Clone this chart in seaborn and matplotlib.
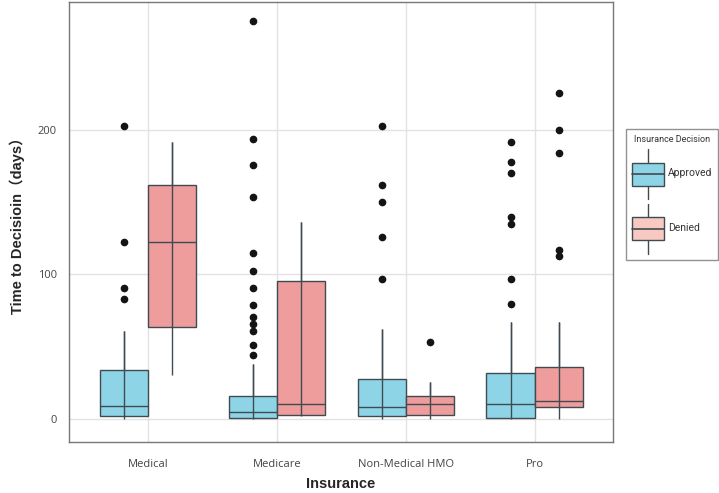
import pandas as pd
import matplotlib
matplotlib.use('Agg')
import matplotlib.pyplot as plt
import seaborn as sns
from matplotlib.patches import Patch, Rectangle
from matplotlib.lines import Line2D
from matplotlib.legend_handler import HandlerBase

# === Data (days to decision) ===
insurance = ['Medical', 'Medicare', 'Non-Medical HMO', 'Pro']
decisions = ['Approved', 'Denied']

medical_approved = [0, 0.5, 1, 1.2, 1.5, 1.8, 2.5, 3.5, 5, 7, 8.5, 11, 15, 20, 27, 33.5,
                    60.6, 82.8, 90.6, 122.5, 203.3]
medical_denied = [30, 50, 63.6, 100, 122.5, 140, 161.8, 180, 191.7]

medicare_approved = [0, 0, 0, 0, 0, 0, 0, 0, 0, 0, 0.3, 0.4, 0.5, 0.6, 0.7,
                     1, 1, 1, 1.5, 2, 2, 2.5, 3, 3, 3.5, 4, 4, 4.3, 4.6,
                     5, 5.5, 6, 7, 7.5, 8, 9, 10, 11, 12, 13, 14, 15, 16,
                     38.1, 43.9, 50.9, 60.6, 65.4, 70.5, 78.6, 90.4, 102.7, 115.2,
                     153.7, 175.7, 193.8, 275.6]
medicare_denied = [2, 2.2, 2.3, 5, 10.1, 50, 95.7, 120, 136.7]

hmo_approved = [0, 0, 0.5, 1, 1.2, 1.5, 1.8, 2.5, 3, 4, 5, 6.5, 7.8, 9, 11, 14, 18, 22, 27.3,
                62.4, 97.1, 126.3, 150, 161.8, 203.3]
hmo_denied = [0, 1, 2.3, 6, 10.4, 13, 16, 25.7, 53.2]

pro_approved = [0, 0, 0, 0, 0.2, 0.3, 0.5, 0.6, 0.7, 1, 2, 3, 4, 6, 7.5, 9, 10.4,
                12, 14, 17, 20, 23, 26, 29, 31.9,
                66.8, 79.5, 97.1, 134.8, 139.6, 170.2, 177.8, 191.9]
pro_denied = [0, 1, 2, 4, 6, 7, 8.3, 9, 10, 11, 11.5, 12, 12.5, 14, 17, 21, 26, 31, 36.1,
              66.8, 112.6, 117.2, 184.5, 200, 225.7]

groups = {
    ('Medical', 'Approved'): medical_approved,
    ('Medical', 'Denied'): medical_denied,
    ('Medicare', 'Approved'): medicare_approved,
    ('Medicare', 'Denied'): medicare_denied,
    ('Non-Medical HMO', 'Approved'): hmo_approved,
    ('Non-Medical HMO', 'Denied'): hmo_denied,
    ('Pro', 'Approved'): pro_approved,
    ('Pro', 'Denied'): pro_denied,
}

rows = []
for (ins, dec), vals in groups.items():
    for v in vals:
        rows.append({'Insurance': ins, 'Decision': dec, 'Days': v})
df = pd.DataFrame(rows)

colors = {'Approved': '#8dd4e6', 'Denied': '#ee9c9c'}
legend_colors = {'Approved': '#8dd4e6', 'Denied': '#f8c8c3'}
edge = '#3f4b50'

# === Plot ===
sns.set_style('white')
plt.rcParams['font.family'] = ['Open Sans', 'DejaVu Sans']

fig = plt.figure(figsize=(7.19, 4.93), dpi=100)
ax = fig.add_axes([0.0964, 0.104, 0.756, 0.892])

sns.boxplot(data=df, x='Insurance', y='Days', hue='Decision',
            order=insurance, hue_order=decisions, palette=colors,
            width=0.75, gap=0, saturation=1, linewidth=1, linecolor=edge,
            showcaps=False, whis=1.5, fliersize=4.5,
            flierprops=dict(marker='o', markerfacecolor='#141414', markeredgecolor='#141414'),
            legend=False, ax=ax)

# ggplot-like whisker running through the box
for cont in ax.containers:
    wh = getattr(cont, 'whiskers', None)
    if not wh:
        continue
    for i in range(0, len(wh), 2):
        lo, hi = wh[i], wh[i + 1]
        lo.set_ydata([lo.get_ydata()[1], hi.get_ydata()[1]])
        lo.set_zorder(3)
        hi.set_zorder(3)

ax.set_ylim(-16, 289)
ax.set_xlim(-0.61, 3.605)
ax.set_yticks([0, 100, 200])
ax.grid(True, color='#e2e2e2', lw=1)
ax.set_axisbelow(True)
for s in ax.spines.values():
    s.set_color('#777777')
    s.set_linewidth(1)
ax.tick_params(axis='both', direction='out', length=6, width=1, color='#777777',
               labelsize=8, labelcolor='#444444', pad=3)
ax.tick_params(axis='x', length=6.5, pad=6)

ax.set_xlabel('Insurance', fontsize=10.5, fontweight='bold',
              family=['Liberation Sans', 'DejaVu Sans'], labelpad=5)
ax.set_ylabel('Time to Decisioin（days）', fontsize=10.5, fontweight='bold',
              family=['Liberation Sans', 'Noto Sans CJK SC', 'DejaVu Sans'], labelpad=9)


class BoxHandler(HandlerBase):
    def create_artists(self, legend, orig_handle, xdescent, ydescent, width, height,
                       fontsize, trans):
        x0, y0 = -xdescent, -ydescent
        face = orig_handle.get_facecolor()
        vline = Line2D([x0 + width / 2, x0 + width / 2], [y0, y0 + height],
                       color=edge, lw=1, transform=trans)
        rect = Rectangle((x0, y0 + height * 0.27), width, height * 0.46,
                         facecolor=face, edgecolor=edge, lw=1, transform=trans)
        med = Line2D([x0, x0 + width], [y0 + height / 2, y0 + height / 2],
                     color=edge, lw=1.2, transform=trans)
        return [vline, rect, med]


handles = [Patch(facecolor=legend_colors[d], label=d) for d in decisions]
leg = fig.legend(handles=handles, title='Insurance Decision',
                 loc='upper left', bbox_to_anchor=(0.870, 0.738), borderaxespad=0,
                 handler_map={Patch: BoxHandler()},
                 prop={'family': 'Roboto', 'size': 7.5},
                 title_fontproperties={'family': 'Roboto', 'size': 6.5},
                 frameon=True, fancybox=False,
                 edgecolor='#777777', handlelength=3.05, handleheight=7.0,
                 handletextpad=0.4, labelspacing=0.45, borderpad=0.6)
leg.get_frame().set_linewidth(1)
for t in leg.get_texts():
    t.set_color('#333333')
leg.get_title().set_color('#333333')

fig.savefig('out.png', dpi=100)
